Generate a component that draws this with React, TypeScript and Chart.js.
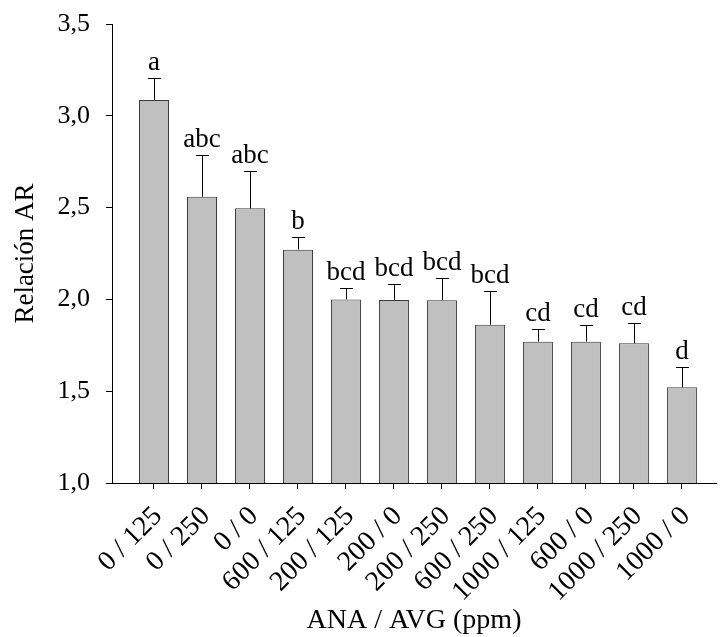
import { useEffect, useRef } from "react";
import { Chart, registerables } from "chart.js";

Chart.register(...registerables);

const categories = [
  "0 / 125",
  "0 / 250",
  "0 / 0",
  "600 / 125",
  "200 / 125",
  "200 / 0",
  "200 / 250",
  "600 / 250",
  "1000 / 125",
  "600 / 0",
  "1000 / 250",
  "1000 / 0",
];
const means = [3.086, 2.559, 2.496, 2.271, 2.0, 1.997, 1.995, 1.862, 1.77, 1.77, 1.761, 1.521];
const errors = [0.121, 0.226, 0.202, 0.071, 0.06, 0.089, 0.122, 0.185, 0.067, 0.092, 0.112, 0.112];
const letters = ["a", "abc", "abc", "b", "bcd", "bcd", "bcd", "bcd", "cd", "cd", "cd", "d"];
const yTicks = [1.0, 1.5, 2.0, 2.5, 3.0, 3.5];

const FONT = '"Liberation Serif", "Times New Roman", serif';

const errPlugin = {
  id: "errLetters",
  afterDatasetsDraw(chart: any) {
    const ctx = chart.ctx;
    const meta = chart.getDatasetMeta(0);
    const ys = chart.scales.y;
    ctx.save();
    meta.data.forEach((bar: any, i: number) => {
      const x = Math.round(bar.x) + 0.5;
      const yTop = ys.getPixelForValue(means[i]);
      const yE = Math.round(ys.getPixelForValue(means[i] + errors[i])) + 0.5;
      ctx.strokeStyle = "#000";
      ctx.lineWidth = 1;
      ctx.beginPath();
      ctx.moveTo(x, yTop);
      ctx.lineTo(x, yE);
      ctx.moveTo(x - 6.5, yE);
      ctx.lineTo(x + 6.5, yE);
      ctx.stroke();
      ctx.font = `27px ${FONT}`;
      ctx.textAlign = "center";
      ctx.textBaseline = "alphabetic";
      ctx.fillStyle = "#000";
      ctx.fillText(letters[i], bar.x, yE - 9);
    });
    ctx.restore();
  },
};

export default function App() {
  const ref = useRef<HTMLCanvasElement | null>(null);

  useEffect(() => {
    if (!ref.current) return;
    const chart = new Chart(ref.current, {
      type: "bar",
      data: {
        datasets: [
          {
            data: means.map((v, i) => ({ x: i, y: v })),
            backgroundColor: "#c0c0c0",
            borderColor: "#3a3a3a",
            borderWidth: 1,
            barPercentage: 0.625,
            categoryPercentage: 1,
          },
        ],
      },
      options: {
        responsive: false,
        animation: false,
        layout: { padding: { top: 24, right: 10, left: 0, bottom: 0 } },
        plugins: {
          legend: { display: false },
          tooltip: { enabled: false },
        },
        scales: {
          x: {
            type: "linear",
            min: -0.875,
            max: 11.71,
            offset: false,
            afterBuildTicks: (scale: any) => {
              scale.ticks = categories.map((_, i) => ({ value: i }));
            },
            afterFit: (scale: any) => {
              scale.height = 154;
            },
            ticks: {
              autoSkip: false,
              minRotation: 45,
              maxRotation: 45,
              padding: 11,
              labelOffset: 4,
              color: "#000",
              font: { family: FONT, size: 28 },
              callback: (v: any) => categories[Math.round(Number(v))] ?? "",
            },
            grid: {
              display: true,
              drawOnChartArea: false,
              drawTicks: true,
              tickLength: 6,
              color: "#000",
              offset: false,
            },
            border: { display: true, color: "#000", width: 1 },
            title: {
              display: true,
              text: "ANA / AVG (ppm)",
              color: "#000",
              font: { family: FONT, size: 28 },
              padding: { top: 0, bottom: 0 },
            },
          },
          y: {
            min: 1,
            max: 3.5,
            afterBuildTicks: (scale: any) => {
              scale.ticks = yTicks.map((v) => ({ value: v }));
            },
            afterFit: (scale: any) => {
              scale.width = 112;
              scale.paddingTop = 0;
              scale.paddingBottom = 0;
            },
            ticks: {
              padding: 16,
              color: "#000",
              font: { family: FONT, size: 26 },
              callback: (v: any) => Number(v).toFixed(1).replace(".", ","),
            },
            grid: {
              display: true,
              drawOnChartArea: false,
              drawTicks: true,
              tickLength: 6,
              color: "#000",
            },
            border: { display: true, color: "#000", width: 1 },
            title: {
              display: true,
              text: "Relación AR",
              color: "#000",
              font: { family: FONT, size: 27 },
              padding: { top: 10, bottom: 0 },
            },
          },
        },
      },
      plugins: [errPlugin],
    } as any);
    return () => chart.destroy();
  }, []);

  return (
    <div style={{ position: "fixed", left: 0, top: 0, width: 726, height: 637, background: "#fff" }}>
      <canvas ref={ref} width={726} height={637} />
    </div>
  );
}
